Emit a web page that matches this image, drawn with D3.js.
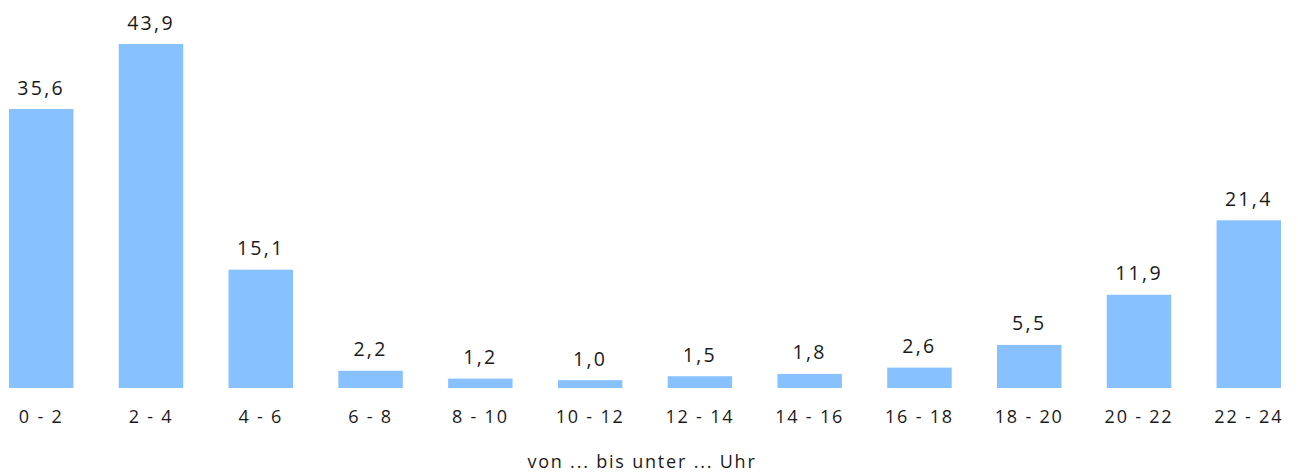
<!DOCTYPE html>
<html><head><meta charset="utf-8">
<script src="https://cdn.jsdelivr.net/npm/d3@7"></script>
<style>
body{margin:0;background:#fff;}
text{font-family:"Open Sans",sans-serif;fill:#1a1a1a;}
</style></head>
<body><svg id="c" width="1298" height="474"></svg>
<script>
const categories = ["0 - 2","2 - 4","4 - 6","6 - 8","8 - 10","10 - 12","12 - 14","14 - 16","16 - 18","18 - 20","20 - 22","22 - 24"];
const values = [35.6,43.9,15.1,2.2,1.2,1.0,1.5,1.8,2.6,5.5,11.9,21.4];
const valueLabels = ["35,6","43,9","15,1","2,2","1,2","1,0","1,5","1,8","2,6","5,5","11,9","21,4"];
const axisTitle = "von ... bis unter ... Uhr";

const svg = d3.select("#c");
const x = d3.scaleBand().domain(categories).range([9,1281]).paddingInner(0.413).paddingOuter(0);
const y = d3.scaleLinear().domain([0,43.9]).range([388,44]);

svg.selectAll("rect.bar").data(values).join("rect")
  .attr("class","bar")
  .attr("x",(d,i)=>x(categories[i]))
  .attr("width",x.bandwidth())
  .attr("y",d=>y(d))
  .attr("height",d=>y(0)-y(d))
  .attr("fill","#87c1ff");

svg.selectAll("text.val").data(values).join("text")
  .attr("class","val")
  .attr("x",(d,i)=>x(categories[i])+x.bandwidth()/2)
  .attr("y",d=>y(d)-14.5)
  .attr("text-anchor","middle")
  .style("font-size","19.5px").style("letter-spacing","2.3px")
  .text((d,i)=>valueLabels[i]);

const axis = d3.axisBottom(x).tickSize(0).tickPadding(0);
const g = svg.append("g").attr("transform","translate(0,"+y(0)+")").call(axis);
g.select(".domain").remove();
g.selectAll("text").attr("dy",null).attr("y",35)
  .style("font-size","18px").style("letter-spacing","1.8px")
  .style("font-family",'"Open Sans",sans-serif').attr("fill","#1a1a1a");

svg.append("text").attr("x",642).attr("y",468).attr("text-anchor","middle")
  .style("font-size","18px").style("letter-spacing","1.8px").text(axisTitle);
</script></body></html>
